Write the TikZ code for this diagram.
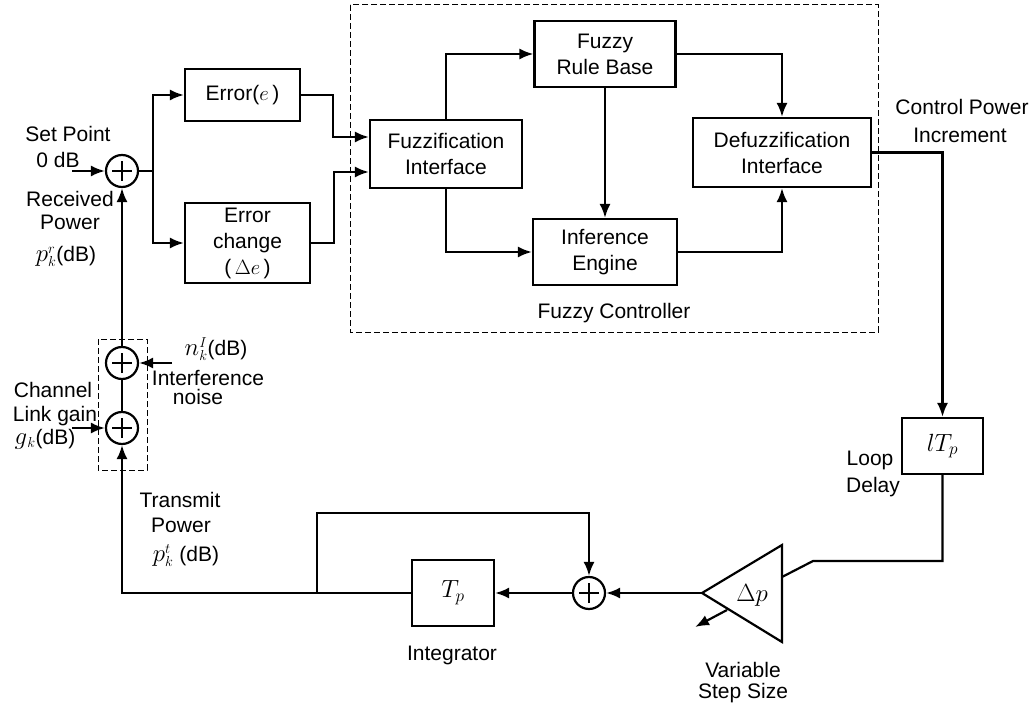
\documentclass[tikz,border=0pt]{standalone}
\usepackage{fontspec}
\setmainfont{Liberation Sans}
\usetikzlibrary{arrows.meta}
\begin{document}
\begin{tikzpicture}[x=1pt,y=-1pt,
  wire/.style={line width=2.2pt},
  arr/.style={wire,-{Latex[length=14pt,width=11pt]}},
  box/.style={draw,line width=2.2pt,align=center,inner sep=0pt,font=\fontsize{21}{26}\selectfont},
  lbl/.style={align=center,inner sep=0pt,font=\fontsize{21}{26}\selectfont},
  sum/.style={circle,draw,line width=2.2pt,minimum size=32pt,inner sep=0pt,
    path picture={\draw[line width=2.2pt] ([xshift=-10pt]path picture bounding box.center) -- ([xshift=10pt]path picture bounding box.center);
                  \draw[line width=2.2pt] ([yshift=-10pt]path picture bounding box.center) -- ([yshift=10pt]path picture bounding box.center);}},
  dbox/.style={draw,line width=1pt,dash pattern=on 6pt off 3pt}
]
\useasboundingbox (0,0) rectangle (1032,708);

% dashed frames
\draw[dbox] (350,5) rectangle (878,332);
\draw[dbox] (98,339) rectangle (147,470);

% boxes
\node[box,minimum width=115pt,minimum height=52pt] (err) at (242.5,95) {Error($e$\,)};
\node[box,minimum width=125pt,minimum height=80pt] (errc) at (247.5,243) {Error\\change\\(\,$\Delta e$\,)};
\node[box,minimum width=152pt,minimum height=68pt] (fuzz) at (446,154) {Fuzzification\\Interface};
\node[box,minimum width=141pt,minimum height=66pt] (frb) at (605,54) {Fuzzy\\Rule Base};
\node[box,minimum width=144pt,minimum height=66pt] (inf) at (605,252) {Inference\\Engine};
\node[box,minimum width=178pt,minimum height=69pt] (defz) at (782,152.5) {Defuzzification\\Interface};
\node[box,minimum width=81pt,minimum height=56pt,font=\fontsize{25}{26}\selectfont] (ltp) at (942.5,446) {$lT_p$};
\node[box,minimum width=82pt,minimum height=66pt,font=\fontsize{25}{26}\selectfont] (integ) at (453,593) {$T_p$};

% summers
\node[sum] (s1) at (122,171) {};
\node[sum] (s2) at (122,363) {};
\node[sum] (s3) at (122,428) {};
\node[sum] (s4) at (589,593) {};

% triangle (gain)
\coordinate (tl) at (702,593);
\coordinate (tt) at (782,545);
\coordinate (tb) at (782,642);
\draw[wire,line join=miter] (tl) -- (tt) -- (tb) -- cycle;
\node[lbl,font=\fontsize{25}{26}\selectfont] (dp) at (752,595) {$\Delta p$};
\coordinate (va1) at (727,610);
\coordinate (va2) at (695,627);
\draw[arr] (va1) -- (va2);

% coordinates
\coordinate (sp) at (72,171);
\coordinate (fk) at (153,171);
\coordinate (ni) at (172,363);
\coordinate (lg) at (72,428);
\coordinate (br) at (317,593);
\coordinate (bend) at (813,561);
\coordinate (triin) at (782,577);

% connectors
\draw[arr] (sp) -- (s1);
\draw[wire] (s1) -- (fk);
\draw[arr] (fk) |- (err.west);
\draw[arr] (fk) |- (errc.west);
\draw[arr] (err.east) -- ++(32,0) |- ([yshift=17pt]fuzz.west);
\draw[arr] (errc.east) -- ++(23,0) |- ([yshift=-18pt]fuzz.west);
\draw[arr] (fuzz.north) |- (frb.west);
\draw[arr] (fuzz.south) |- (inf.west);
\draw[arr] (frb.south) -- (inf.north);
\draw[arr] (frb.east) -| (defz.north);
\draw[arr] (inf.east) -| (defz.south);
\draw[arr] (defz.east) -| (ltp.north);
\draw[wire] (ltp.south) |- (bend) -- (triin);
\draw[arr] (tl) -- (s4);
\draw[arr] (s4) -- (integ.east);
\draw[arr] (integ.west) -| (s3.south);
\draw[arr] (br) -- ++(0,-80) -| (s4.north);
\draw[wire] (s3) -- (s2);
\draw[arr] (s2) -- (s1);
\draw[arr] (ni) -- (s2);
\draw[arr] (lg) -- (s3);

% labels
\node[lbl] (l1) at (68,134) {Set Point};
\node[lbl] (l2) at (58,160) {0 dB};
\node[lbl] (l3) at (70,199) {Received};
\node[lbl] (l4) at (70,222) {Power};
\node[lbl] (l5) at (66,256) {\smash{{\fontsize{26}{26}\selectfont$p$}$^{r}_{k}$}(dB)};
\node[lbl] (l6) at (53,390) {Channel};
\node[lbl] (l7) at (55,416) {Link gain};
\node[lbl] (l8) at (45,439) {\smash{{\fontsize{26}{26}\selectfont$g$}$_{k}$}(dB)};
\node[lbl] (l9) at (216,350) {\smash{{\fontsize{26}{26}\selectfont$n$}$^{I}_{k}$}(dB)};
\node[lbl] (l10) at (208,378) {Interference};
\node[lbl] (l11) at (198,397) {noise};
\node[lbl] (l12) at (180,500) {Transmit};
\node[lbl] (l13) at (181,525) {Power};
\node[lbl] (l14) at (186,556) {\smash{{\fontsize{26}{26}\selectfont$p$}$^{t}_{k}$} (dB)};
\node[lbl] (l15) at (452,655) {Integrator};
\node[lbl] (l16) at (743,670) {Variable};
\node[lbl] (l17) at (743,693) {Step Size};
\node[lbl] (l18) at (870,460) {Loop};
\node[lbl] (l19) at (873,487) {Delay};
\node[lbl] (l20) at (962,107) {Control Power};
\node[lbl] (l21) at (960,135) {Increment};
\node[lbl] (l22) at (614,313) {Fuzzy Controller};
\end{tikzpicture}
\end{document}
